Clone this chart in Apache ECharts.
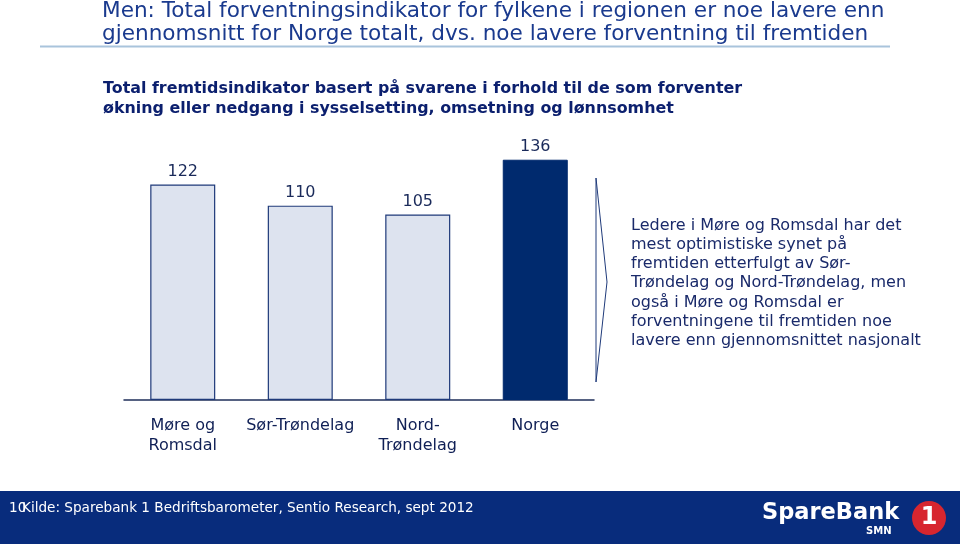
<!DOCTYPE html>
<html><head><meta charset="utf-8">
<script src="https://cdn.jsdelivr.net/npm/echarts@6/dist/echarts.min.js"></script>
<style>html,body{margin:0;padding:0;background:#fff}#c{width:960px;height:544px}</style>
</head><body><div id="c"></div>
<script>
const categories = ['Møre og\nRomsdal', 'Sør-Trøndelag', 'Nord-\nTrøndelag', 'Norge'];
const values = [122, 110, 105, 136];
const highlight = [false, false, false, true];

const chart = echarts.init(document.getElementById('c'));
const verdana = '"DejaVu Sans", Verdana, sans-serif';
chart.setOption({
  animation: false,
  grid: {left: 124, right: 366, top: 135, bottom: 144, containLabel: false},
  xAxis: {
    type: 'category', data: categories,
    axisLine: {lineStyle: {color: '#1f2f5a', width: 1.5}},
    axisTick: {show: false},
    axisLabel: {color: '#0f1f55', fontFamily: verdana, fontSize: 16, margin: 16, lineHeight: 20, interval: 0}
  },
  yAxis: {type: 'value', min: 0, max: 150, show: false, splitLine: {show: false}},
  series: [{
    type: 'bar', barWidth: 65,
    data: values.map((v, i) => ({
      value: v,
      itemStyle: highlight[i] ? {color: '#002a6e', borderColor: '#002a6e', borderWidth: 1}
                              : {color: '#dde3ef', borderColor: '#1f3a7a', borderWidth: 1.2}
    })),
    label: {show: true, position: 'top', distance: 5, color: '#1a2a5a', fontFamily: verdana, fontSize: 16}
  }],
  graphic: [
    {type: 'text', left: 102, top: 0, style: {text: 'Men: Total forventningsindikator for fylkene i regionen er noe lavere enn\ngjennomsnitt for Norge totalt, dvs. noe lavere forventning til fremtiden', font: '21.6px ' + verdana, fill: '#1a3a8e', lineHeight: 23}},
    {type: 'line', shape: {x1: 40, y1: 46.5, x2: 890, y2: 46.5}, style: {stroke: '#a9c4dc', lineWidth: 2}},
    {type: 'text', left: 103, top: 79, style: {text: 'Total fremtidsindikator basert på svarene i forhold til de som forventer\nøkning eller nedgang i sysselsetting, omsetning og lønnsomhet', font: 'bold 15.9px ' + verdana, fill: '#0b1f6e', lineHeight: 20}},
    {type: 'polyline', shape: {points: [[596, 178], [607, 282], [596, 382], [596, 178]]}, style: {stroke: '#1f3a7a', fill: 'none', lineWidth: 1}},
    {type: 'text', left: 631, top: 216, style: {text: 'Ledere i Møre og Romsdal har det\nmest optimistiske synet på\nfremtiden etterfulgt av Sør-\nTrøndelag og Nord-Trøndelag, men\nogså i Møre og Romsdal er\nforventningene til fremtiden noe\nlavere enn gjennomsnittet nasjonalt', font: '16px ' + verdana, fill: '#1a2a6a', lineHeight: 19.2}},
    {type: 'rect', shape: {x: 0, y: 491, width: 960, height: 53}, style: {fill: '#082c7c'}},
    {type: 'text', left: 9, top: 501, style: {text: '10', font: '13.6px ' + verdana, fill: '#ffffff'}},
    {type: 'text', left: 22, top: 501, style: {text: 'Kilde: Sparebank 1 Bedriftsbarometer, Sentio Research, sept 2012', font: '13.6px ' + verdana, fill: '#ffffff'}},
    {type: 'text', left: 762, top: 502, style: {text: 'SpareBank', font: 'bold 22.5px ' + verdana, fill: '#ffffff'}},
    {type: 'text', left: 866, top: 526, style: {text: 'SMN', font: 'bold 10px ' + verdana, fill: '#ffffff'}},
    {type: 'circle', shape: {cx: 929, cy: 518, r: 17}, style: {fill: '#d7262f'}},
    {type: 'text', x: 929, y: 518, style: {text: '1', font: 'bold 24px ' + verdana, fill: '#ffffff', align: 'center', verticalAlign: 'middle'}}
  ]
});
</script></body></html>
